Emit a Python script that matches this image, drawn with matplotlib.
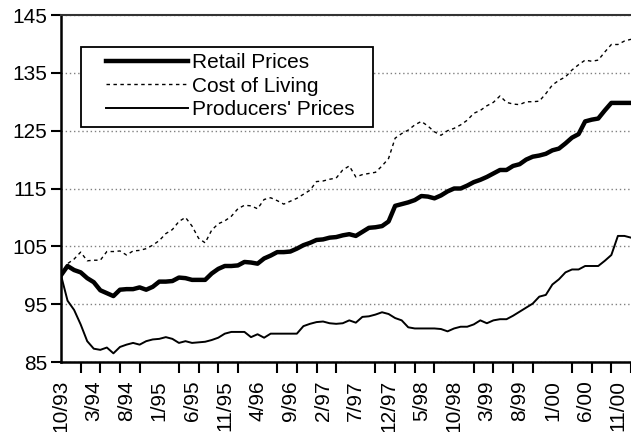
import matplotlib.pyplot as plt
from matplotlib.patches import Rectangle
import numpy as np

plt.rcParams['font.family'] = ['Liberation Sans', 'DejaVu Sans']

# monthly index values, 10/93 .. 1/01
retail = [100.0, 101.6, 100.9, 100.5, 99.5, 98.8, 97.4, 96.9, 96.4, 97.5,
          97.6, 97.6, 97.9, 97.5, 98.0, 98.9, 98.9, 99.0, 99.6, 99.5,
          99.2, 99.2, 99.2, 100.3, 101.1, 101.6, 101.6, 101.7, 102.3, 102.2,
          102.0, 102.9, 103.4, 104.0, 104.0, 104.1, 104.6, 105.2, 105.6, 106.1,
          106.2, 106.5, 106.6, 106.9, 107.1, 106.8, 107.5, 108.2, 108.3, 108.5,
          109.3, 112.0, 112.3, 112.6, 113.0, 113.7, 113.6, 113.3, 113.8, 114.5,
          115.0, 115.0, 115.5, 116.1, 116.5, 117.0, 117.6, 118.2, 118.2, 118.9,
          119.2, 120.0, 120.5, 120.7, 121.0, 121.6, 121.9, 122.8, 123.8, 124.4,
          126.6, 126.9, 127.1, 128.5, 129.8, 129.8, 129.8, 129.8]

cost_of_living = [100.0, 102.0, 102.8, 104.0, 102.5, 102.6, 102.6, 104.1, 104.1, 104.2,
                  103.5, 104.2, 104.3, 104.6, 105.2, 106.0, 107.2, 107.9, 109.3, 110.0,
                  108.5, 106.4, 105.6, 107.8, 108.9, 109.4, 110.2, 111.5, 112.1, 112.0,
                  111.5, 113.1, 113.4, 112.9, 112.3, 112.8, 113.3, 114.0, 114.7, 116.2,
                  116.3, 116.6, 116.8, 118.2, 118.9, 117.0, 117.4, 117.6, 117.8, 118.9,
                  120.2, 123.7, 124.5, 125.1, 126.0, 126.6, 125.8, 124.8, 124.2, 125.0,
                  125.4, 126.0, 126.8, 128.0, 128.5, 129.3, 129.9, 131.0, 129.9, 129.6,
                  129.5, 130.0, 130.0, 130.1, 131.4, 132.9, 133.7, 134.3, 135.5, 136.4,
                  137.2, 137.0, 137.2, 138.6, 139.9, 139.9, 140.5, 140.8]

producers = [100.0, 95.6, 94.0, 91.5, 88.6, 87.3, 87.1, 87.5, 86.5, 87.6,
             88.0, 88.3, 88.0, 88.6, 88.9, 89.0, 89.3, 89.0, 88.3, 88.6,
             88.3, 88.4, 88.5, 88.8, 89.2, 89.9, 90.2, 90.2, 90.2, 89.3,
             89.8, 89.2, 89.9, 89.9, 89.9, 89.9, 89.9, 91.2, 91.6, 91.9,
             92.0, 91.7, 91.6, 91.7, 92.2, 91.8, 92.8, 92.9, 93.2, 93.6,
             93.3, 92.6, 92.2, 91.0, 90.8, 90.8, 90.8, 90.8, 90.7, 90.3,
             90.8, 91.1, 91.1, 91.5, 92.2, 91.7, 92.2, 92.4, 92.4, 93.0,
             93.7, 94.4, 95.1, 96.3, 96.6, 98.4, 99.3, 100.5, 101.0, 101.0,
             101.6, 101.6, 101.6, 102.5, 103.5, 106.8, 106.8, 106.5]

tick_labels = ['10/93', '3/94', '8/94', '1/95', '6/95', '11/95', '4/96', '9/96',
               '2/97', '7/97', '12/97', '5/98', '10/98', '3/99', '8/99', '1/00',
               '6/00', '11/00']

x = np.arange(len(retail))

fig = plt.figure(figsize=(6.31, 4.32), dpi=100)
ax = fig.add_axes([61 / 631, 70 / 432, 570 / 631, 347 / 432])

ax.plot(x, retail, color='black', lw=3.2, solid_joinstyle='round', label='Retail Prices')
ax.plot(x, cost_of_living, color='black', lw=1.0, linestyle=(0, (2.5, 2.5)), label='Cost of Living')
ax.plot(x, producers, color='black', lw=1.4, label="Producers' Prices")

ax.set_xlim(0, len(x) - 1)
ax.set_ylim(85, 145)
ax.set_yticks(np.arange(85, 146, 10))
ax.yaxis.grid(True, linestyle=(0, (1, 2)), color='#808080', lw=1.0)
ax.set_axisbelow(True)

ax.set_xticks(x[::5][:len(tick_labels)])
ax.set_xticklabels(tick_labels, rotation=90, va='top', ha='center')
ax.set_xticks(x[::3], minor=True)
ax.tick_params(axis='x', which='major', length=0, pad=13, labelsize=15)
ax.tick_params(axis='x', which='minor', length=8, width=1.5, direction='out')
ax.tick_params(axis='y', length=7, width=1.5, pad=3, labelsize=15)

for side in ['left', 'bottom']:
    ax.spines[side].set_linewidth(1.8)
ax.spines['right'].set_visible(False)
ax.spines['top'].set_color('#333333')
ax.spines['top'].set_linewidth(1.5)

# legend box (white, black border) drawn separately so padding can differ
box = Rectangle((0.035, 0.677), 0.512, 0.231, transform=ax.transAxes,
                facecolor='white', edgecolor='black', lw=1.3, zorder=5)
ax.add_patch(box)
leg = ax.legend(loc='center left', bbox_to_anchor=(0.079, 0.795), fontsize=15,
                frameon=False, handlelength=3.95, handletextpad=0.2,
                labelspacing=0.23, borderpad=0, borderaxespad=0)
leg.set_zorder(6)

fig.savefig('out.png', dpi=100)
